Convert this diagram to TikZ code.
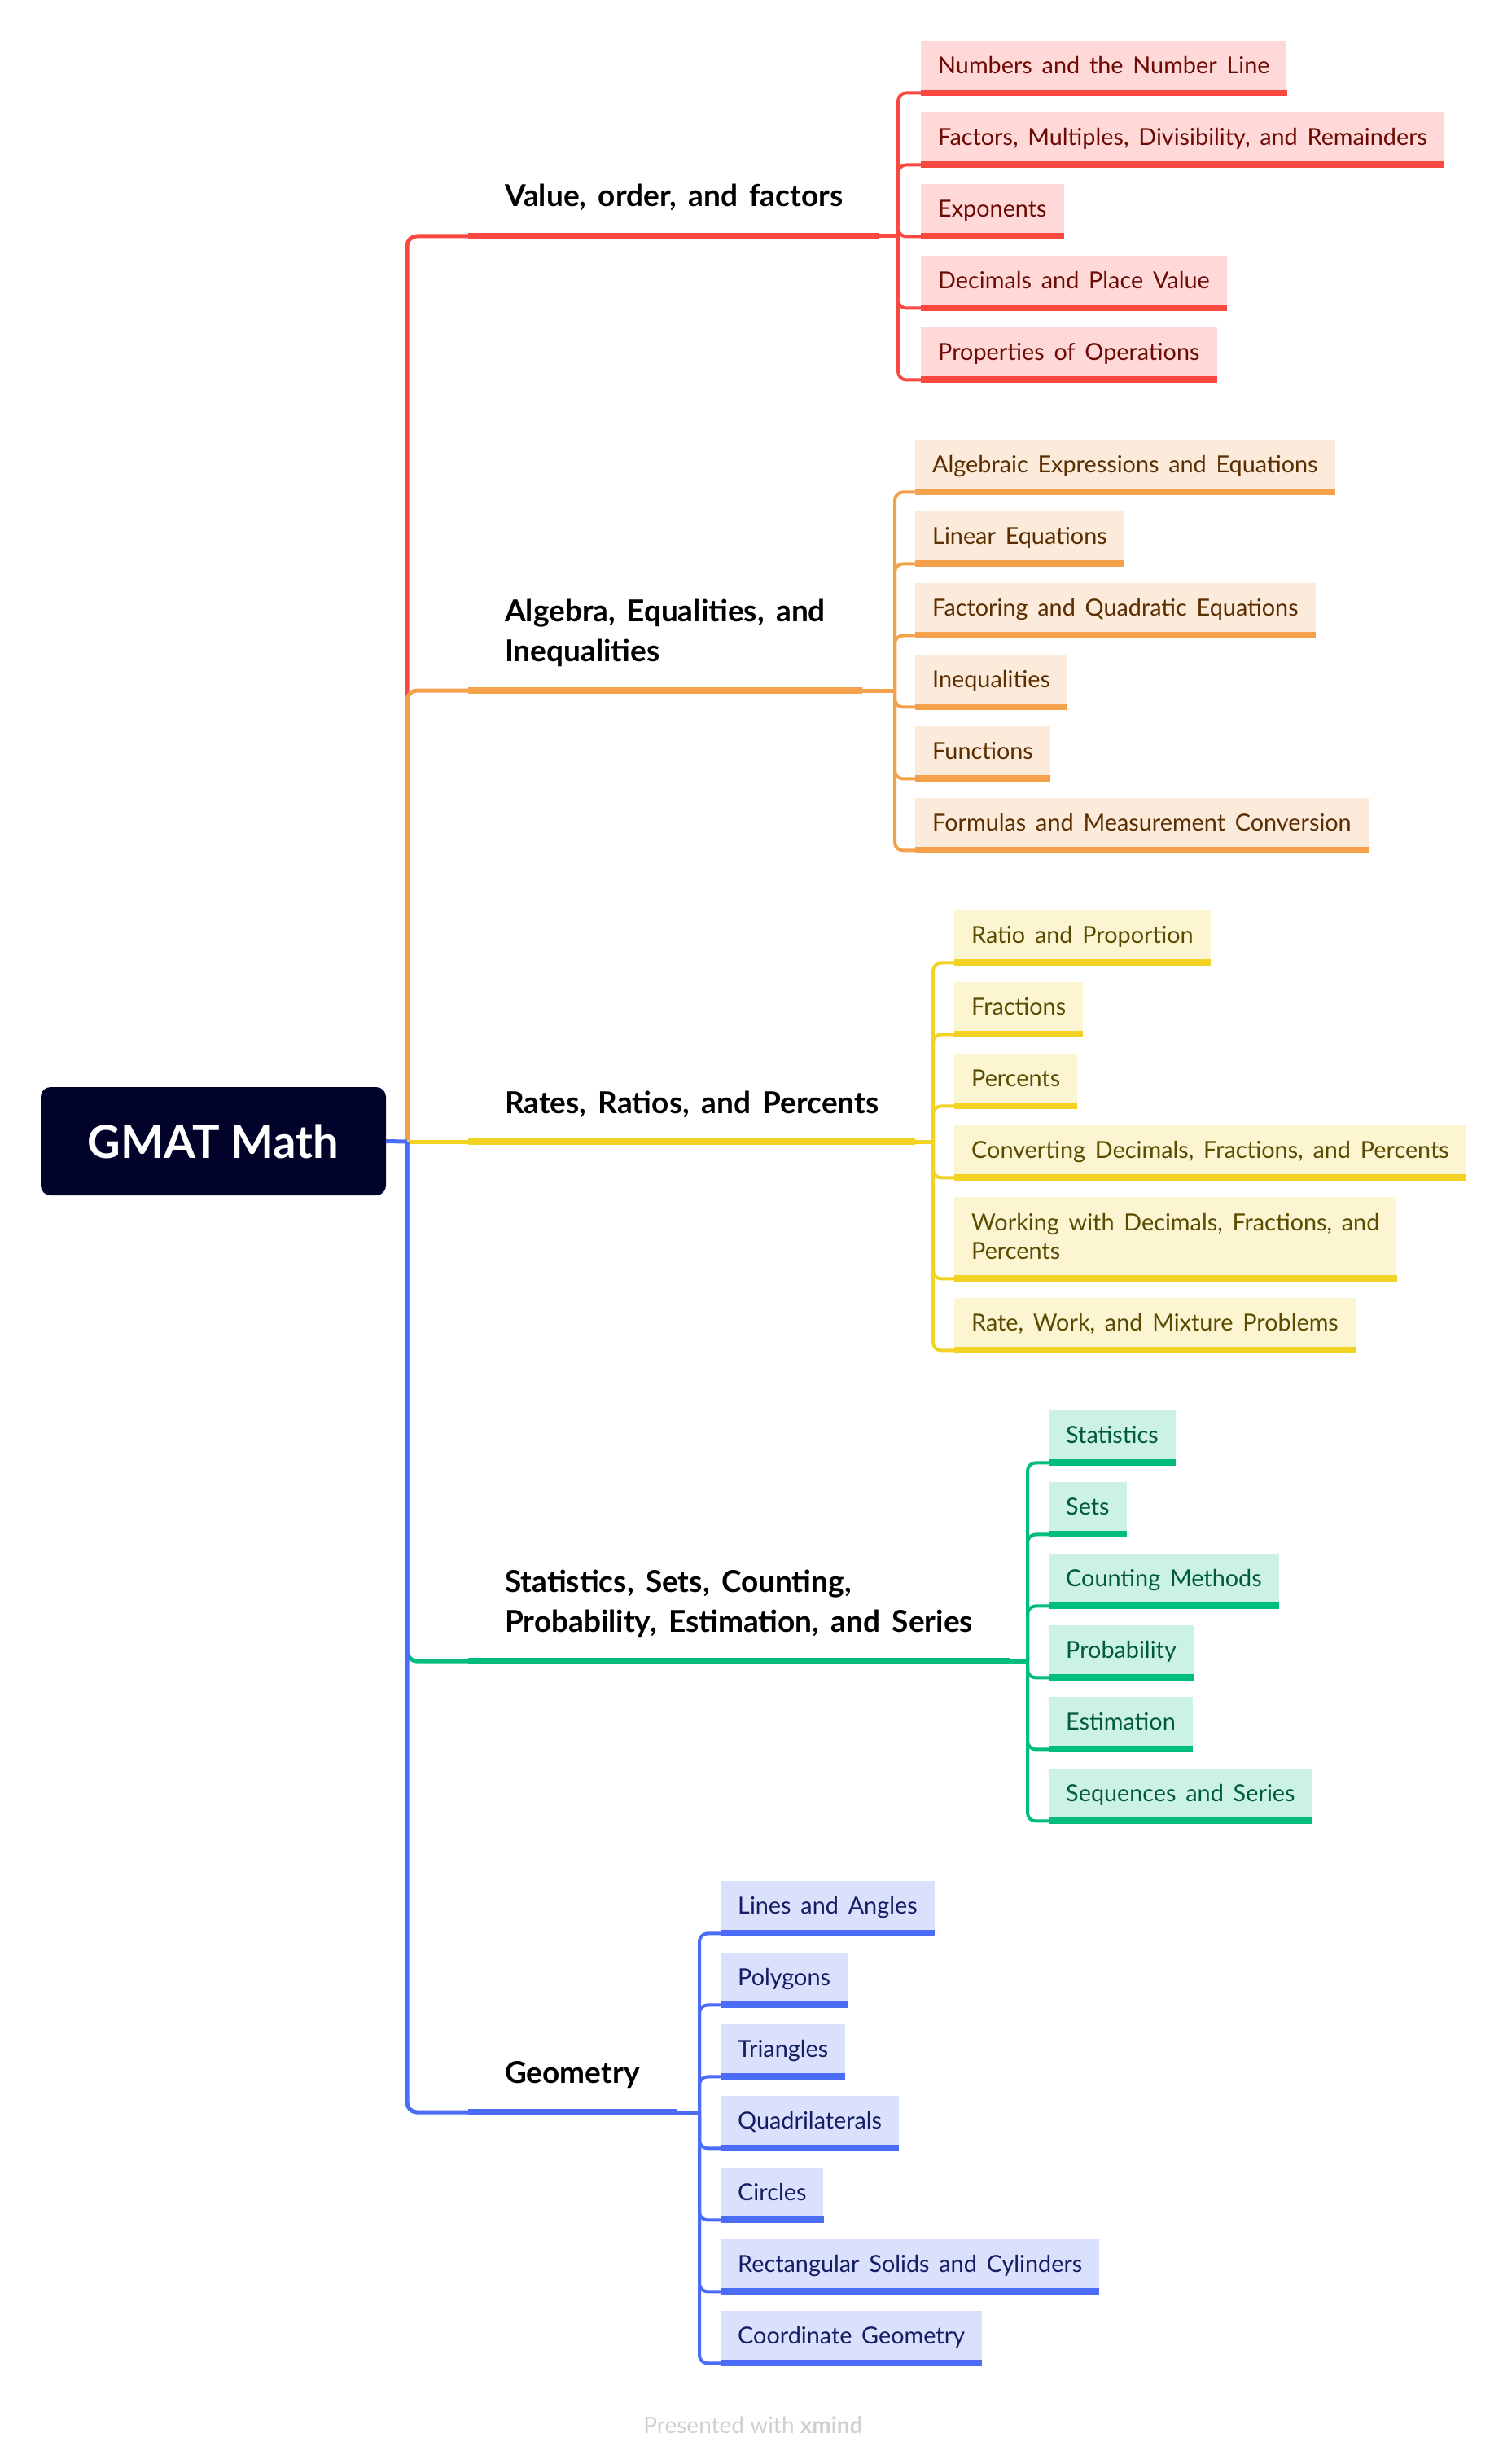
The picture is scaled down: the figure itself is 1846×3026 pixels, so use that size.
\documentclass[tikz,border=0pt]{standalone}
\usepackage{fontspec}
\setmainfont{Lato}
\newfontfamily\leaffont[WordSpace=1.8]{Lato}
\newfontfamily\topicfont[WordSpace=1.6]{Lato}
\usetikzlibrary{positioning}
\definecolor{rootbg}{HTML}{000229}
\definecolor{redln}{HTML}{F84840}
\definecolor{redbg}{HTML}{FFD9D8}
\definecolor{redtx}{HTML}{6E0A05}
\definecolor{orangeln}{HTML}{F5A04B}
\definecolor{orangebg}{HTML}{FCEBDA}
\definecolor{orangetx}{HTML}{5A2E00}
\definecolor{yellowln}{HTML}{F2D223}
\definecolor{yellowbg}{HTML}{FCF5D2}
\definecolor{yellowtx}{HTML}{5A4B00}
\definecolor{greenln}{HTML}{00BC7D}
\definecolor{greenbg}{HTML}{CCF2E3}
\definecolor{greentx}{HTML}{005A3C}
\definecolor{blueln}{HTML}{4A6CF7}
\definecolor{bluebg}{HTML}{DBE1FD}
\definecolor{bluetx}{HTML}{141E64}
\definecolor{footgray}{HTML}{D0D0D0}

\tikzset{
  rootbox/.style={fill=rootbg, rounded corners=12pt, minimum width=424pt, minimum height=133pt,
    text=white, font=\fontsize{56}{70}\selectfont\bfseries},
  topic/.style={anchor=base west, inner xsep=45pt, inner ysep=0pt, align=left,
    font=\topicfont\fontsize{37}{49}\selectfont\bfseries},
  leaf/.style={anchor=north west, fill=#1bg, text=#1tx, inner xsep=21pt, inner ysep=0pt,
    minimum height=60pt, align=left, text height=24pt, text depth=4pt,
    font=\leaffont\fontsize{28.8}{35}\selectfont},
  branch/.style={draw=#1ln, line width=5pt, rounded corners=12pt},
  twig/.style={draw=#1ln, line width=4pt, rounded corners=10pt},
  under/.style={draw=#1ln, line width=8pt},
}

\begin{document}
\begin{tikzpicture}[x=1pt, y=-1pt]
\useasboundingbox (0,0) rectangle (1846,3026);

\node[rootbox] (root) at (262,1401.5) {GMAT Math};
\coordinate (hub) at (500,1402);

% main branches
\coordinate (uval) at (575,290);
\coordinate (ualg) at (575,848);
\coordinate (urat) at (575,1402);
\coordinate (ustat) at (575,2040);
\coordinate (ugeo) at (575,2594);
\draw[branch=red] (hub) |- (uval);
\draw[branch=orange] (hub) |- (ualg);
\draw[branch=yellow] (hub) -- (urat);
\draw[branch=green] (hub) |- (ustat);
\draw[branch=blue] (hub) |- (ugeo);
\draw[branch=blue] (root.east) -- (hub);

\node[topic] (val) at (575,254) {Value, order, and factors};
\node[topic] (alg) at (575,812) {Algebra, Equalities, and\\Inequalities};
\node[topic] (rat) at (575,1367) {Rates, Ratios, and Percents};
\node[topic] (stat) at (575,2004) {Statistics, Sets, Counting,\\Probability, Estimation, and Series};
\node[topic] (geo) at (575,2558) {Geometry};

\draw[under=red] (uval) -- (uval -| val.east);
\draw[under=orange] (ualg) -- (ualg -| alg.east);
\draw[under=yellow] (urat) -- (urat -| rat.east);
\draw[under=green] (ustat) -- (ustat -| stat.east);
\draw[under=blue] (ugeo) -- (ugeo -| geo.east);

\coordinate (cval) at (1103,290);
\coordinate (calg) at (1099,848);
\coordinate (crat) at (1146,1402);
\coordinate (cstat) at (1262,2040);
\coordinate (cgeo) at (859,2594);
\draw[branch=red] (uval -| val.east) -- (cval);
\draw[branch=orange] (ualg -| alg.east) -- (calg);
\draw[branch=yellow] (urat -| rat.east) -- (crat);
\draw[branch=green] (ustat -| stat.east) -- (cstat);
\draw[branch=blue] (ugeo -| geo.east) -- (cgeo);

% subtopics
\foreach \n/\yy/\txt in {val1/50/Numbers and the Number Line,
    val2/138/{Factors, Multiples, Divisibility, and Remainders},
    val3/226/Exponents, val4/314/Decimals and Place Value,
    val5/402/Properties of Operations} {
  \node[leaf=red] (\n) at (1131,\yy) {\txt};
  \draw[under=red] ([yshift=-4pt]\n.south west) -- ([yshift=-4pt]\n.south east);
  \draw[twig=red] (cval) |- ([yshift=-4pt]\n.south west);
}
\foreach \n/\yy/\txt in {alg1/540/Algebraic Expressions and Equations,
    alg2/628/Linear Equations, alg3/716/Factoring and Quadratic Equations,
    alg4/804/Inequalities, alg5/892/Functions,
    alg6/980/Formulas and Measurement Conversion} {
  \node[leaf=orange] (\n) at (1124,\yy) {\txt};
  \draw[under=orange] ([yshift=-4pt]\n.south west) -- ([yshift=-4pt]\n.south east);
  \draw[twig=orange] (calg) |- ([yshift=-4pt]\n.south west);
}
\node[leaf=yellow, minimum height=96pt, text height=, text depth=] (rat5) at (1172,1470)
  {Working with Decimals, Fractions, and\\Percents};
\foreach \n/\yy/\txt in {rat1/1118/Ratio and Proportion, rat2/1206/Fractions,
    rat3/1294/Percents, rat4/1382/{Converting Decimals, Fractions, and Percents},
    rat5/0/, rat6/1594/{Rate, Work, and Mixture Problems}} {
  \ifnum\yy>0
    \node[leaf=yellow] (\n) at (1172,\yy) {\txt};
  \fi
  \draw[under=yellow] ([yshift=-4pt]\n.south west) -- ([yshift=-4pt]\n.south east);
  \draw[twig=yellow] (crat) |- ([yshift=-4pt]\n.south west);
}
\foreach \n/\yy/\txt in {stat1/1732/Statistics, stat2/1820/Sets,
    stat3/1908/Counting Methods, stat4/1996/Probability,
    stat5/2084/Estimation, stat6/2172/Sequences and Series} {
  \node[leaf=green] (\n) at (1288,\yy) {\txt};
  \draw[under=green] ([yshift=-4pt]\n.south west) -- ([yshift=-4pt]\n.south east);
  \draw[twig=green] (cstat) |- ([yshift=-4pt]\n.south west);
}
\foreach \n/\yy/\txt in {geo1/2310/Lines and Angles, geo2/2398/Polygons,
    geo3/2486/Triangles, geo4/2574/Quadrilaterals, geo5/2662/Circles,
    geo6/2750/Rectangular Solids and Cylinders, geo7/2838/Coordinate Geometry} {
  \node[leaf=blue] (\n) at (885,\yy) {\txt};
  \draw[under=blue] ([yshift=-4pt]\n.south west) -- ([yshift=-4pt]\n.south east);
  \draw[twig=blue] (cgeo) |- ([yshift=-4pt]\n.south west);
}

\node[text=footgray, font=\fontsize{28}{32}\selectfont] (foot) at (925,2978)
  {Presented with \textbf{xmind}};
\end{tikzpicture}
\end{document}
